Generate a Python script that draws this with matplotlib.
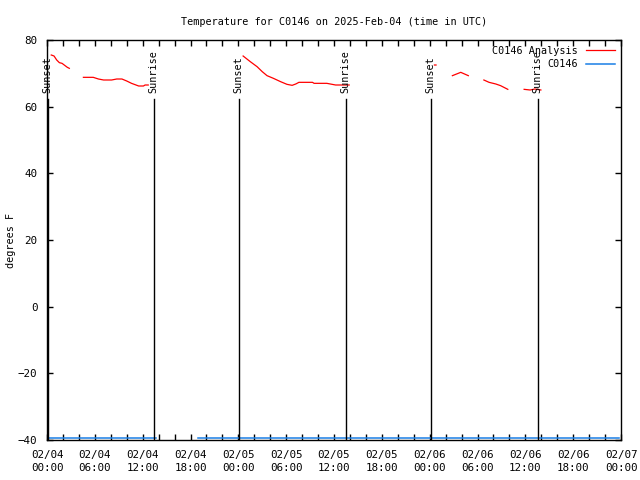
from matplotlib import pyplot as plt
import matplotlib.dates as mdates
import numpy as np

START = np.datetime64("2025-02-04T00:00")

# hours after 2025-02-04 00:00 UTC, temperature in F (segments split by None)
analysis_hours = [0.54, 0.88, 1.22, 1.55, 1.88, 2.22, 2.55, 2.8, None,
                  4.57, 5.8, 6.45, 7.1, 8.1, 8.75, 9.4, 10.0, 10.6, 11.5, 12.1, 12.3, 12.7, None,
                  24.6, 25.5, 26.35, 27.0, 27.6, 28.4, 29.3, 30.1, 30.75, 31.2, 31.6, 33.3, 33.5,
                  35.1, 36.2, 37.9, None,
                  48.6, 48.8, None,
                  50.85, 51.9, 52.85, None,
                  54.8, 55.45, 56.3, 56.9, 57.8, None,
                  59.85, 60.6, 61.2, 61.95]
analysis_temps = [75.5, 75.2, 74.0, 73.2, 73.0, 72.4, 71.8, 71.5, None,
                  68.8, 68.8, 68.3, 68.0, 68.0, 68.3, 68.3, 67.7, 67.0, 66.2, 66.2, 66.5, 66.5, None,
                  75.2, 73.5, 72.0, 70.5, 69.3, 68.5, 67.5, 66.7, 66.4, 66.8, 67.3, 67.3, 67.0,
                  67.0, 66.5, 66.5, None,
                  72.5, 72.5, None,
                  69.3, 70.3, 69.3, None,
                  68.0, 67.3, 66.8, 66.3, 65.2, None,
                  65.2, 65.0, 65.3, 65.0]

obs_hours = [0.0, 13.7, None, 19.0, 71.8]
obs_temps = [-39.5, -39.5, None, -39.5, -39.5]

sunset_hours = [0.06, 24.04, 48.13]
sunrise_hours = [13.36, 37.45, 61.57]


def to_time(hours):
    return [np.datetime64("NaT") if h is None else START + np.timedelta64(int(round(h * 60)), "m")
            for h in hours]


def to_vals(values):
    return [np.nan if v is None else v for v in values]


plt.rcParams['font.family'] = ['DejaVu Sans Mono']
plt.rcParams['font.size'] = 7.3

fig = plt.figure(figsize=(6.4, 4.8), dpi=100)
ax = fig.add_axes([47 / 640, 1 - 440 / 480, 574 / 640, 400 / 480])

ax.plot(to_time(analysis_hours), to_vals(analysis_temps), color="#ff0000", lw=0.9,
        label="C0146 Analysis")
ax.plot(to_time(obs_hours), to_vals(obs_temps), color="#1a7fe6", lw=1.1, label="C0146")

for name, hours in (("Sunset", sunset_hours), ("Sunrise", sunrise_hours)):
    for t in to_time(hours):
        ax.plot([t, t], [-40, 62.3], color="black", lw=1.0)
        ax.text(t, 64.0, name, rotation=90, ha="center", va="bottom")

ax.set_xlim(START, START + np.timedelta64(72, "h"))
ax.set_ylim(-40, 80)
ax.set_yticks(np.arange(-40, 81, 20))
ax.xaxis.set_major_locator(mdates.HourLocator(byhour=range(0, 24, 6)))
ax.xaxis.set_minor_locator(mdates.HourLocator(byhour=range(0, 24, 2)))
ax.xaxis.set_major_formatter(mdates.DateFormatter("%m/%d\n%H:%M"))
ax.tick_params(which="both", direction="in", top=True, right=True, length=4, width=1,
               labelsize=7.8)
ax.tick_params(axis="x", pad=7)
ax.tick_params(axis="y", pad=7)
for s in ax.spines.values():
    s.set_linewidth(1.0)

ax.set_ylabel("degrees F")
ax.yaxis.set_label_coords(-0.054, 0.5)
ax.set_title("Temperature for C0146 on 2025-Feb-04 (time in UTC)", pad=11, fontsize=7.3)

handles, labels = ax.get_legend_handles_labels()
ax.legend(handles[:2], labels[:2], loc="upper right", frameon=False, markerfirst=False,
          handlelength=2.9, handletextpad=0.8, borderaxespad=0.15, labelspacing=0.35)

fig.canvas.draw()
for lbl in ax.get_xticklabels():
    lbl.set_linespacing(1.45)

fig.savefig("out.png", dpi=100)
